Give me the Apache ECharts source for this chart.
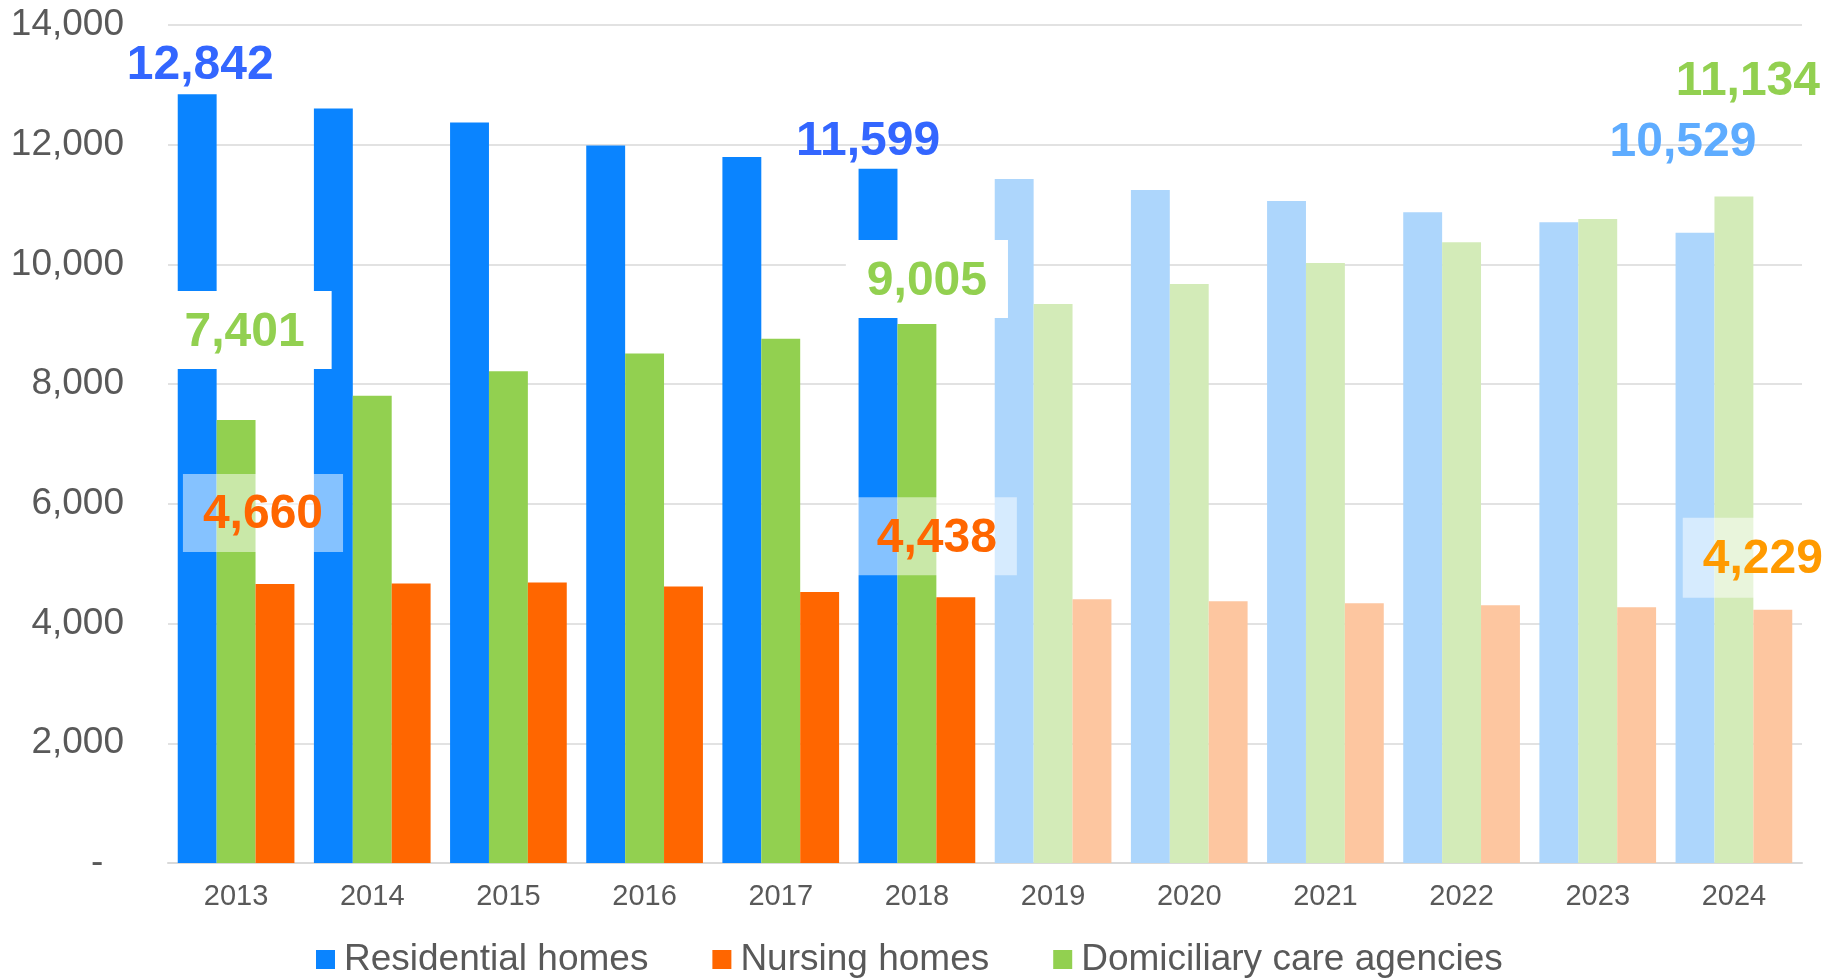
<!DOCTYPE html>
<html lang="en">
<head>
  <meta charset="UTF-8">
  <title>Care providers</title>
  <script src="https://cdn.jsdelivr.net/npm/echarts@6/dist/echarts.min.js"></script>
  <style>
    html, body { margin: 0; padding: 0; background: #fff; }
    #main { width: 1837px; height: 980px; }
  </style>
</head>
<body>
  <div id="main"></div>
</body>
<script>
  let years = ['2013', '2014', '2015', '2016', '2017', '2018', '2019', '2020', '2021', '2022', '2023', '2024'];
  let residential = [12842, 12607, 12373, 11988, 11793, 11599, 11426, 11242, 11058, 10873, 10706, 10529];
  let domiciliary = [7401, 7804, 8217, 8513, 8757, 9005, 9337, 9671, 10022, 10372, 10757, 11134];
  let nursing = [4660, 4669, 4686, 4619, 4529, 4438, 4407, 4373, 4340, 4306, 4273, 4229];
  let yTicks = [0, 2000, 4000, 6000, 8000, 10000, 12000, 14000];
  let firstProjected = 6; // 2019 onwards drawn pale

  let font = "'Liberation Sans', Arial, sans-serif";

  // big bold value labels, only on a few bars
  function valueLabel(color, offset, bg, pad) {
    return {
      show: true,
      position: 'top',
      distance: 0,
      offset: offset,
      color: color,
      fontSize: 48,
      fontWeight: 'bold',
      fontFamily: font,
      backgroundColor: bg || 'transparent',
      padding: pad || 0,
      formatter: (p) => p.value.toLocaleString('en-US')
    }
  }

  let resLabels = {
    0: valueLabel('#3366ff', [3, -5]),
    5: valueLabel('#3366ff', [-10, -3]),
    11: valueLabel('#5eacff', [-12, -66])
  }
  let domLabels = {
    0: valueLabel('#92d050', [17, -51], '#ffffff', [18, 27, 12, 10]),
    5: valueLabel('#92d050', [10, -6], '#ffffff', [18, 21, 12, 21]),
    11: valueLabel('#92d050', [14, -91])
  }
  let nurLabels = {
    0: valueLabel('#ff6600', [-12, -32], 'rgba(255,255,255,0.5)', [17, 20, 13, 20]),
    5: valueLabel('#ff6600', [-19, -22], 'rgba(255,255,255,0.5)', [17, 20, 13, 20]),
    11: valueLabel('#ff9a00', [-10, -12], 'rgba(255,255,255,0.5)', [18, 20, 14, 20])
  }

  function buildData(values, pale, labels) {
    return values.map((v, i) => {
      let item = { value: v }
      if (i >= firstProjected) item.itemStyle = { color: pale }
      if (labels[i]) item.label = labels[i]
      return item
    })
  }

  let myChart = echarts.init(document.getElementById('main'));
  let option = {
    animation: false,
    textStyle: { fontFamily: font },
    grid: { left: 168, right: 35, top: 25, bottom: 117 },
    legend: {
      data: ['Residential homes', 'Nursing homes', 'Domiciliary care agencies'],
      left: 316,
      top: 941,
      padding: 0,
      icon: 'rect',
      itemWidth: 19,
      itemHeight: 19,
      itemGap: 64,
      textStyle: { fontSize: 37, color: '#595959', fontFamily: font, padding: [0, 0, 0, 4] }
    },
    xAxis: {
      type: 'category',
      data: years,
      axisTick: { show: false },
      axisLine: { lineStyle: { color: '#d9d9d9', width: 2 } },
      axisLabel: { fontSize: 29, color: '#595959', margin: 19, fontFamily: font }
    },
    yAxis: {
      type: 'value',
      min: yTicks[0],
      max: yTicks[yTicks.length - 1],
      interval: yTicks[1] - yTicks[0],
      axisLine: { show: false },
      axisTick: { show: false },
      splitLine: { lineStyle: { color: '#d9d9d9', width: 1.5 } },
      axisLabel: {
        fontSize: 37,
        color: '#595959',
        margin: 44,
        fontFamily: font,
        formatter: (v) => v === 0 ? '-  ' : v.toLocaleString('en-US')
      }
    },
    series: [
      {
        name: 'Residential homes',
        type: 'bar',
        barGap: '0%',
        barCategoryGap: '14.3%',
        itemStyle: { color: '#0a84ff' },
        data: buildData(residential, '#add6fc', resLabels)
      },
      {
        name: 'Domiciliary care agencies',
        type: 'bar',
        barGap: '0%',
        barCategoryGap: '14.3%',
        itemStyle: { color: '#92d050' },
        data: buildData(domiciliary, '#d3ebb8', domLabels)
      },
      {
        name: 'Nursing homes',
        type: 'bar',
        barGap: '0%',
        barCategoryGap: '14.3%',
        itemStyle: { color: '#ff6600' },
        data: buildData(nursing, '#fdc6a0', nurLabels)
      }
    ]
  }
  myChart.setOption(option)
</script>
</html>
